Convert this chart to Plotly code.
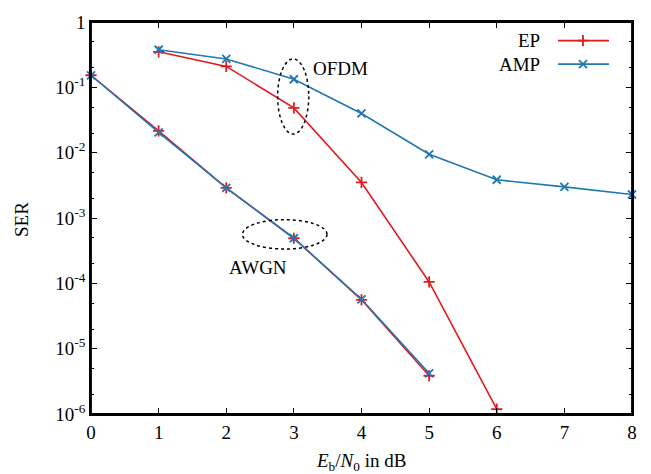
import plotly.graph_objects as go

snr = [0, 1, 2, 3, 4, 5, 6, 7, 8]

# OFDM curves
ofdm_x_ep = [1, 2, 3, 4, 5, 6]
ofdm_ep = [0.35, 0.209, 0.0484, 3.5e-3, 1.05e-4, 1.19e-6]
ofdm_x_amp = [1, 2, 3, 4, 5, 6, 7, 8]
ofdm_amp = [0.376, 0.272, 0.133, 0.0398, 9.44e-3, 3.85e-3, 2.99e-3, 2.29e-3]

# AWGN curves
awgn_x = [0, 1, 2, 3, 4, 5]
awgn_ep = [0.153, 0.0216, 2.9e-3, 4.9e-4, 5.6e-5, 3.85e-6]
awgn_amp = [0.153, 0.0204, 2.9e-3, 4.9e-4, 5.7e-5, 4.2e-6]

y_tickvals = [1e-6, 1e-5, 1e-4, 1e-3, 1e-2, 1e-1, 1]
y_ticktext = ["10<sup>-6</sup>", "10<sup>-5</sup>", "10<sup>-4</sup>", "10<sup>-3</sup>",
              "10<sup>-2</sup>", "10<sup>-1</sup>", "1"]
minor_vals = [m * 10.0 ** e for e in range(-6, 0) for m in (2, 5)]

RED = "#e31a1c"
BLUE = "#1f78b4"
FONT = "Liberation Serif"
FS = 19

# plot area in pixels
L, R, T, B = 91, 632, 14, 414


def px(xp):
    return (xp - L) / (R - L)


def py(yp):
    return (B - yp) / (B - T)


def ylog(frac):  # paper fraction -> data value on log axis
    return 10 ** (-6 + 6 * frac)


def xdata(frac):
    return 8 * frac


fig = go.Figure()


def add(x, y, color, symbol):
    fig.add_trace(go.Scatter(x=x, y=y, mode="lines+markers",
                             line=dict(color=color, width=1.6),
                             marker=dict(symbol=symbol, size=8, color=color,
                                         line=dict(color=color, width=1.8)),
                             showlegend=False, cliponaxis=False))


add(awgn_x, awgn_ep, RED, "cross-thin")
add(awgn_x, awgn_amp, BLUE, "x-thin")
add(ofdm_x_ep, ofdm_ep, RED, "cross-thin")
add(ofdm_x_amp, ofdm_amp, BLUE, "x-thin")

# legend sample markers
for yp, col, sym in [(33, RED, "cross-thin"), (57, BLUE, "x-thin")]:
    fig.add_trace(go.Scatter(x=[xdata(px(583))], y=[ylog(py(yp))], mode="markers",
                             marker=dict(symbol=sym, size=8, color=col,
                                         line=dict(color=col, width=1.8)),
                             showlegend=False, hoverinfo="skip", cliponaxis=False))
    fig.add_shape(type="line", xref="paper", yref="paper", x0=px(558), x1=px(609),
                  y0=py(yp), y1=py(yp), line=dict(color=col, width=1.6))

axis_common = dict(showline=True, linecolor="black", linewidth=1.5, mirror="ticks",
                   ticks="inside", ticklen=6, tickwidth=1, tickcolor="black",
                   showgrid=False, zeroline=False,
                   tickfont=dict(family=FONT, size=FS, color="black"))

fig.update_layout(
    width=651, height=474,
    margin=dict(l=L, r=651 - R, t=T, b=474 - B),
    plot_bgcolor="white", paper_bgcolor="white",
    font=dict(family=FONT, size=FS, color="black"),
    xaxis=dict(range=[0, 8], tickvals=snr, **axis_common),
    yaxis=dict(type="log", range=[-6, 0], tickvals=y_tickvals, ticktext=y_ticktext,
               minor=dict(tickvals=minor_vals, ticks="inside", ticklen=3,
                          tickwidth=1, tickcolor="black"),
               **axis_common),
)

# plot frame
fig.add_shape(type="rect", xref="paper", yref="paper", x0=0, x1=1, y0=0, y1=1,
              line=dict(color="black", width=1.8), layer="above")


def lfrac(v):
    return (v + 6) / 6


# dotted ellipses (y in paper fraction of log axis)
fig.add_shape(type="circle", xref="x", yref="paper", x0=2.76, x1=3.22,
              y0=lfrac(-1.715), y1=lfrac(-0.565),
              line=dict(color="black", width=1.5, dash="3px,3px"))
fig.add_shape(type="circle", xref="x", yref="paper", x0=2.24, x1=3.49,
              y0=lfrac(-3.475), y1=lfrac(-3.025),
              line=dict(color="black", width=1.5, dash="3px,3px"))

ann = [
    dict(text="OFDM", x=px(311), y=py(61), xanchor="left"),
    dict(text="AWGN", x=px(227), y=py(264), xanchor="left"),
    dict(text="EP", x=px(542), y=py(33), xanchor="right"),
    dict(text="AMP", x=px(542), y=py(57), xanchor="right"),
    dict(text="<i>E</i><sub>b</sub>/<i>N</i><sub>0</sub> in dB", x=px(361), y=py(463),
         xanchor="center"),
    dict(text="SER", x=px(22), y=py(216), xanchor="center", textangle=-90),
]
for a in ann:
    fig.add_annotation(xref="paper", yref="paper", yanchor="middle", showarrow=False,
                       font=dict(family=FONT, size=FS, color="black"), **a)

fig.write_html("out.html", config={"displayModeBar": False},
               post_script="document.body.style.margin='0';document.body.style.overflow='hidden';")
